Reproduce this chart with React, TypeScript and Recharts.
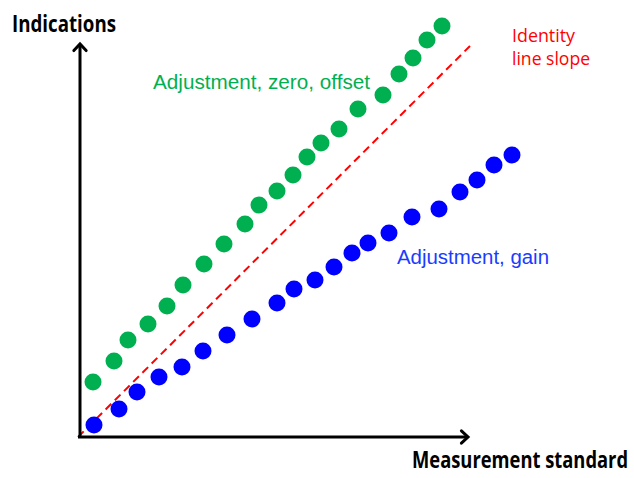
import React from 'react';
import { ScatterChart, Scatter, XAxis, YAxis, ReferenceLine } from 'recharts';

// readings of the two adjusted instruments (x = standard, y = indication)
const zeroOffsetX = [13, 34, 48, 68, 87, 103, 124, 144, 165, 179, 197, 213, 227, 241, 259, 278, 303, 319, 333, 347, 362];
const zeroOffsetY = [55, 76, 97, 113, 131, 152, 173, 193, 213, 232, 246, 262, 280, 294, 308, 328, 342, 363, 379, 397, 411];

const gainX = [14, 39, 57, 79, 102, 123, 147, 172, 197, 214, 235, 254, 272, 288, 309, 332, 359, 380, 397, 414, 432];
const gainY = [12, 28, 45, 60, 70, 86, 102, 118, 134, 148, 157, 170, 184, 194, 204, 220, 228, 245, 257, 272, 282];

const identityLine = [{ x: -2, y: 0 }, { x: 390, y: 391 }];
const xAxisLine = [{ x: -2, y: 0 }, { x: 388, y: 0 }];
const yAxisLine = [{ x: 0, y: 0 }, { x: 0, y: 393 }];

const zeroOffsetData = zeroOffsetX.map((x, i) => ({ x, y: zeroOffsetY[i] }));
const gainData = gainX.map((x, i) => ({ x, y: gainY[i] }));

const dot = (color: string) => (props: any) => (
  <circle cx={props.cx} cy={props.cy} r={8.5} fill={color} />
);

const arrow = (props: any) => {
  const { x1, y1, x2, y2 } = props;
  const a = Math.atan2(y2 - y1, x2 - x1);
  const len = 9;
  const spread = 0.75;
  const p1 = [x2 - len * Math.cos(a - spread), y2 - len * Math.sin(a - spread)];
  const p2 = [x2 - len * Math.cos(a + spread), y2 - len * Math.sin(a + spread)];
  return (
    <g>
      <line x1={x1} y1={y1} x2={x2} y2={y2} stroke="#000" strokeWidth={3} />
      <polyline
        points={`${p1[0]},${p1[1]} ${x2},${y2} ${p2[0]},${p2[1]}`}
        fill="none"
        stroke="#000"
        strokeWidth={3}
        strokeLinecap="round"
        strokeLinejoin="miter"
      />
    </g>
  );
};

const boldFont = '"Open Sans", sans-serif';
const plainFont = '"Liberation Sans", Arial, sans-serif';

export default function App() {
  return (
    <div style={{ position: 'absolute', left: 0, top: 0, width: 634, height: 478, background: '#fff' }}>
      <ScatterChart width={634} height={478} margin={{ top: 17, right: 54, bottom: 41, left: 80 }}>
        <XAxis type="number" dataKey="x" domain={[0, 500]} hide />
        <YAxis type="number" dataKey="y" domain={[0, 420]} hide />
        <ReferenceLine segment={identityLine} stroke="#ff0000" strokeWidth={2} strokeDasharray="8 5" ifOverflow="visible" />
        <ReferenceLine segment={xAxisLine} ifOverflow="visible" shape={arrow} />
        <ReferenceLine segment={yAxisLine} ifOverflow="visible" shape={arrow} />
        <Scatter data={zeroOffsetData} shape={dot('#00b050')} isAnimationActive={false} />
        <Scatter data={gainData} shape={dot('#0000ff')} isAnimationActive={false} />
      </ScatterChart>
      <svg width={634} height={478} style={{ position: 'absolute', left: 0, top: 0, pointerEvents: 'none' }}>
        <text x={12} y={32} fontFamily={boldFont} fontWeight="bold" fontSize={23} textLength={104} lengthAdjust="spacingAndGlyphs" fill="#000">
          Indications
        </text>
        <g transform="translate(412,468) scale(0.78,1)">
          <text x={0} y={0} fontFamily={boldFont} fontWeight="bold" fontSize={24} textLength={277} lengthAdjust="spacingAndGlyphs" fill="#000">
            Measurement standard
          </text>
        </g>
        <text x={512} y={42} fontFamily={boldFont} fontSize={18} textLength={63} lengthAdjust="spacingAndGlyphs" fill="#ff0000">
          Identity
        </text>
        <text x={512} y={65} fontFamily={boldFont} fontSize={18} textLength={78} lengthAdjust="spacingAndGlyphs" fill="#ff0000">
          line slope
        </text>
        <text x={153} y={89} fontFamily={plainFont} fontSize={20} textLength={217} lengthAdjust="spacingAndGlyphs" fill="#00b050">
          Adjustment, zero, offset
        </text>
        <text x={397} y={264} fontFamily={plainFont} fontSize={20} textLength={152} lengthAdjust="spacingAndGlyphs" fill="#1a3cff">
          Adjustment, gain
        </text>
      </svg>
    </div>
  );
}
